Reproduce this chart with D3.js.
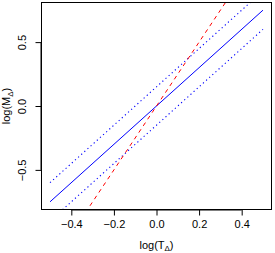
<!DOCTYPE html>
<html>
<head>
<meta charset="utf-8">
<script src="https://cdn.jsdelivr.net/npm/d3@7"></script>
<style>
  body { margin: 0; background: white; }
  text { font-family: "Liberation Sans", Arial, sans-serif; }
</style>
</head>
<body>
<div id="chart"></div>
<script>
let w = 275;
let h = 253;
let margin = {top: 2.5, right: 3.5, bottom: 43.5, left: 41.5};

// tick values
let xTicks = [-0.4, -0.2, 0.0, 0.2, 0.4];
let yTicks = [-0.5, 0.0, 0.5];

// lines, endpoints
let fitX = [-0.5, 0.5];
let fitY = [-0.75, 0.75];
let upperY = [-0.6, 0.9];
let lowerY = [-0.9, 0.6];
let refX = [-0.5, 0.5];
let refY = [-1.25, 1.25];

let viz = d3.select("#chart")
  .append("svg")
  .attr("width", w)
  .attr("height", h);

let xScale = d3.scaleLinear().domain([-0.54, 0.54]).range([margin.left, w - margin.right]);
let yScale = d3.scaleLinear().domain([-0.81, 0.81]).range([h - margin.bottom, margin.top]);

viz.append("clipPath").attr("id", "clip")
  .append("rect")
  .attr("x", margin.left).attr("y", margin.top)
  .attr("width", w - margin.left - margin.right)
  .attr("height", h - margin.top - margin.bottom);

let line = d3.line()
  .x(d => xScale(d[0]))
  .y(d => yScale(d[1]));

let plot = viz.append("g").attr("clip-path", "url(#clip)");

// dotted band
plot.append("path")
  .attr("d", line(d3.zip(fitX, upperY)))
  .attr("stroke", "blue").attr("fill", "none")
  .attr("stroke-width", 1.1).attr("stroke-dasharray", "1.2,3");
plot.append("path")
  .attr("d", line(d3.zip(fitX, lowerY)))
  .attr("stroke", "blue").attr("fill", "none")
  .attr("stroke-width", 1.1).attr("stroke-dasharray", "1.2,3");

// fit line
plot.append("path")
  .attr("d", line(d3.zip(fitX, fitY)))
  .attr("stroke", "blue").attr("fill", "none")
  .attr("stroke-width", 1);

// reference line
plot.append("path")
  .attr("d", line(d3.zip(refX, refY)))
  .attr("stroke", "red").attr("fill", "none")
  .attr("stroke-width", 1).attr("stroke-dasharray", "4,4");

// box
viz.append("rect")
  .attr("x", margin.left).attr("y", margin.top)
  .attr("width", w - margin.left - margin.right)
  .attr("height", h - margin.top - margin.bottom)
  .attr("fill", "none").attr("stroke", "black").attr("stroke-width", 1);

// x axis
let xAxis = d3.axisBottom(xScale)
  .tickValues(xTicks)
  .tickFormat(d3.format(".1f"))
  .tickSize(6)
  .tickPadding(5);
let xg = viz.append("g")
  .attr("transform", "translate(0," + (h - margin.bottom) + ")")
  .call(xAxis);
xg.select(".domain").attr("d", "M" + xScale(-0.4) + ",0.5H" + xScale(0.4));
xg.selectAll("text").attr("font-size", 11).attr("font-family", "Liberation Sans, Arial, sans-serif").attr("fill", "#000");

// y axis
let yAxis = d3.axisLeft(yScale)
  .tickValues(yTicks)
  .tickFormat(d3.format(".1f"))
  .tickSize(6);
let yg = viz.append("g")
  .attr("transform", "translate(" + margin.left + ",0)")
  .call(yAxis);
yg.select(".domain").attr("d", "M-0.5," + yScale(-0.5) + "V" + yScale(0.5));
yg.selectAll(".tick text")
  .attr("font-size", 11).attr("font-family", "Liberation Sans, Arial, sans-serif").attr("fill", "#000")
  .attr("x", null).attr("dy", null)
  .attr("text-anchor", "middle")
  .attr("transform", "translate(-16,0) rotate(-90)");

// titles
let xt = viz.append("text")
  .attr("x", xScale(0)).attr("y", 248.5)
  .attr("text-anchor", "middle").attr("font-size", 11);
xt.append("tspan").text("log(T");
xt.append("tspan").text("Δ").attr("font-size", 8).attr("dy", 2.5);
xt.append("tspan").text(")").attr("dy", -2.5);

let yt = viz.append("text")
  .attr("transform", "translate(10," + yScale(0) + ") rotate(-90)")
  .attr("text-anchor", "middle").attr("font-size", 11);
yt.append("tspan").text("log(M");
yt.append("tspan").text("Δ").attr("font-size", 8).attr("dy", 2.5);
yt.append("tspan").text(")").attr("dy", -2.5);
</script>
</body>
</html>
